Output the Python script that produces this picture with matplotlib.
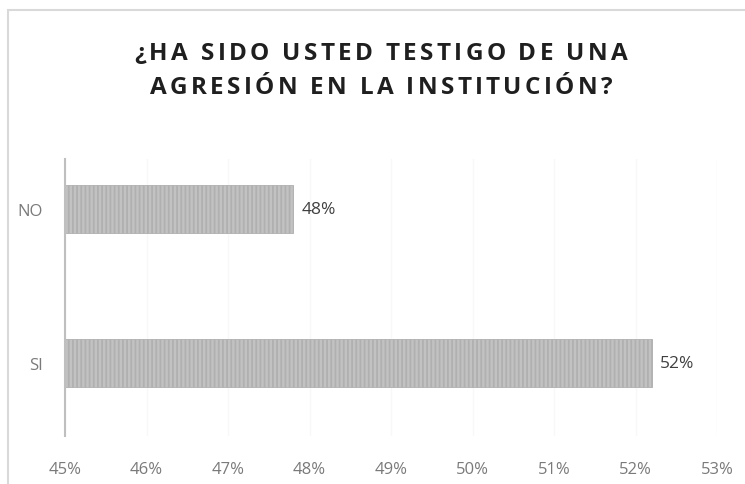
import matplotlib.pyplot as plt
from matplotlib.patches import Rectangle
from matplotlib.ticker import FuncFormatter
from matplotlib.font_manager import FontProperties, findfont, get_font

categories = ['SI', 'NO']
values = [52.2, 47.8]
value_labels = ['52%', '48%']
ticks = [45, 46, 47, 48, 49, 50, 51, 52, 53]
title_lines = ['¿HA SIDO USTED TESTIGO DE UNA', 'AGRESIÓN EN LA INSTITUCIÓN?']

plt.rcParams['font.family'] = ['Open Sans', 'DejaVu Sans']
plt.rcParams['hatch.linewidth'] = 1.3
plt.rcParams['hatch.color'] = '#959595'

W, H = 745, 485
fig = plt.figure(figsize=(W / 100, H / 100), dpi=100)
fig.patches.append(Rectangle((8 / W, -0.1), 1.2, 1 - 11 / H + 0.1,
                             transform=fig.transFigure, fill=False,
                             edgecolor='#d9d9d9', linewidth=1.5))

ax = fig.add_axes([65 / W, 1 - 437 / H, (717 - 65) / W, (437 - 160) / H])

ax.barh(range(len(categories)), [v - 45 for v in values], left=45, height=0.31,
        color='#c2c2c2', edgecolor='#b0b0b0', hatch='||||', linewidth=0.6)

for i, (v, lab) in enumerate(zip(values, value_labels)):
    ax.text(v + 0.1, i, lab, va='center', ha='left', fontsize=12.5, color='#404040')

ax.set_xlim(45, 53)
ax.set_ylim(-0.47, 1.32)
ax.set_xticks(ticks)
ax.xaxis.set_major_formatter(FuncFormatter(lambda x, p: f'{x:.0f}%'))
ax.set_yticks(range(len(categories)))
ax.set_yticklabels(categories)
ax.tick_params(axis='both', length=0, labelsize=12, labelcolor='#7a7a7a')
ax.tick_params(axis='x', pad=18)
ax.tick_params(axis='y', pad=16)
ax.grid(axis='x', color='#f8f8f8', linewidth=1)
ax.set_axisbelow(True)
for s in ['top', 'right', 'bottom']:
    ax.spines[s].set_visible(False)
ax.spines['left'].set_color('#bfbfbf')
ax.spines['left'].set_linewidth(1.5)

# title with letter spacing, placed char by char
tsize = 17.5
fp = FontProperties(family='Open Sans', weight='bold', size=tsize)
font = get_font(findfont(fp))
font.set_size(tsize, 100)
baselines = [60, 94]
center_x = 381
line1_width = 493

def advances(line):
    return [font.load_char(ord(c)).linearHoriAdvance / 65536 for c in line]

a0 = advances(title_lines[0])
spacing = (line1_width - sum(a0)) / (len(title_lines[0]) - 1)
for line, base in zip(title_lines, baselines):
    adv = advances(line)
    total = sum(adv) + spacing * (len(line) - 1)
    x = center_x - total / 2
    for c, a in zip(line, adv):
        fig.text(x / W, 1 - base / H, c, ha='left', va='baseline',
                 fontproperties=fp, color='#1f1f1f')
        x += a + spacing

plt.savefig('out.png', dpi=100)
